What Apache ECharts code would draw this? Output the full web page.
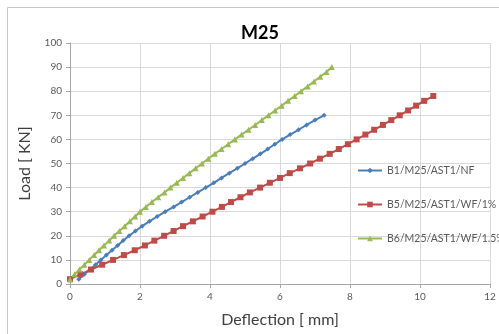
<!DOCTYPE html>
<html><head><meta charset="utf-8">
<script src="https://cdn.jsdelivr.net/npm/echarts@6/dist/echarts.min.js"></script>
<style>html,body{margin:0;padding:0;background:#fff}#c{width:499px;height:334px}</style>
</head><body><div id="c"></div>
<script>
var titleText = "M25";
var xName = "Deflection [ mm]";
var yName = "Load [ KN]";
var seriesNames = ["B1/M25/AST1/NF", "B5/M25/AST1/WF/1%", "B6/M25/AST1/WF/1.5%"];

var b1Load = [2,4,6,8,10,12,14,16,18,20,22,24,26,28,30,32,34,36,38,40,42,44,46,48,50,52,54,56,58,60,62,64,66,68,70];
var b1Defl = [0.25,0.41,0.57,0.73,0.88,1.04,1.2,1.36,1.52,1.69,1.87,2.06,2.27,2.49,2.72,2.96,3.19,3.42,3.65,3.88,4.11,4.33,4.55,4.78,5.0,5.22,5.44,5.65,5.85,6.06,6.29,6.53,6.76,7.0,7.26];

var b5Load = [2,4,6,8,10,12,14,16,18,20,22,24,26,28,30,32,34,36,38,40,42,44,46,48,50,52,54,56,58,60,62,64,66,68,70,72,74,76,78];
var b5Defl = [0,0.3,0.6,0.92,1.23,1.54,1.85,2.14,2.41,2.69,2.96,3.23,3.51,3.79,4.07,4.34,4.6,4.87,5.14,5.43,5.71,6.0,6.28,6.57,6.86,7.14,7.42,7.68,7.94,8.19,8.44,8.69,8.94,9.18,9.42,9.66,9.89,10.12,10.38];

var b6Load = [2,4,6,8,10,12,14,16,18,20,22,24,26,28,30,32,34,36,38,40,42,44,46,48,50,52,54,56,58,60,62,64,66,68,70,72,74,76,78,80,82,84,86,88,90];
var b6Defl = [0,0.13,0.27,0.41,0.55,0.69,0.83,0.97,1.12,1.26,1.41,1.56,1.71,1.86,2.0,2.17,2.34,2.52,2.7,2.87,3.05,3.23,3.41,3.59,3.77,3.95,4.14,4.33,4.52,4.71,4.9,5.1,5.29,5.48,5.67,5.86,6.05,6.23,6.42,6.6,6.79,6.97,7.15,7.33,7.48];

var colors = ["#4a7ebb", "#be4b48", "#98b954"];
var symbols = ["diamond", "rect", "triangle"];
var symbolSizes = [5, 6, 6];

function pairs(xs, ys){ return xs.map(function(x,i){ return [x, ys[i]]; }); }
var datasets = [pairs(b1Defl,b1Load), pairs(b5Defl,b5Load), pairs(b6Defl,b6Load)];

var font = "Lato, 'Open Sans', sans-serif";
var chart = echarts.init(document.getElementById('c'), null, {renderer:'canvas'});
chart.setOption({
  animation:false,
  backgroundColor:'#fff',
  title:{text:titleText, left:255, top:19, textAlign:'center',
    textStyle:{fontFamily:font, fontSize:18, fontWeight:'bold', color:'#000'}},
  graphic:[{type:'rect', shape:{x:7.5,y:7.5,width:500,height:340}, style:{fill:'none', stroke:'#c8c8c8', lineWidth:1}, silent:true, z:-1}],
  grid:{left:70, right:9, top:43, bottom:50},
  legend:{orient:'vertical', left:352, top:160, itemGap:23, itemWidth:24, itemHeight:7,
    textStyle:{fontFamily:font, fontSize:10.5, color:'#595959'},
    data:seriesNames},
  xAxis:{type:'value', min:0, max:12, interval:2, name:xName, nameLocation:'middle', nameGap:28,
    nameTextStyle:{fontFamily:font, fontSize:16, color:'#404040'},
    axisLine:{show:true, lineStyle:{color:'#a6a6a6'}}, axisTick:{show:true, length:4, lineStyle:{color:'#a6a6a6'}},
    axisLabel:{fontFamily:font, fontSize:10, color:'#595959', margin:8},
    splitLine:{show:true, lineStyle:{color:'#d9d9d9'}}},
  yAxis:{type:'value', min:0, max:100, interval:10, name:yName, nameLocation:'middle', nameGap:37,
    nameTextStyle:{fontFamily:font, fontSize:16, color:'#404040'},
    axisLine:{show:true, lineStyle:{color:'#a6a6a6'}}, axisTick:{show:true, length:4, lineStyle:{color:'#a6a6a6'}},
    axisLabel:{fontFamily:font, fontSize:10, color:'#595959', margin:8},
    splitLine:{show:true, lineStyle:{color:'#d9d9d9'}}},
  series:datasets.map(function(d,i){
    return {name:seriesNames[i], type:'line', data:d, color:colors[i], symbol:symbols[i], symbolSize:symbolSizes[i],
      showAllSymbol:true, lineStyle:{width:2, color:colors[i]}, itemStyle:{color:colors[i]}};
  })
});
</script></body></html>
